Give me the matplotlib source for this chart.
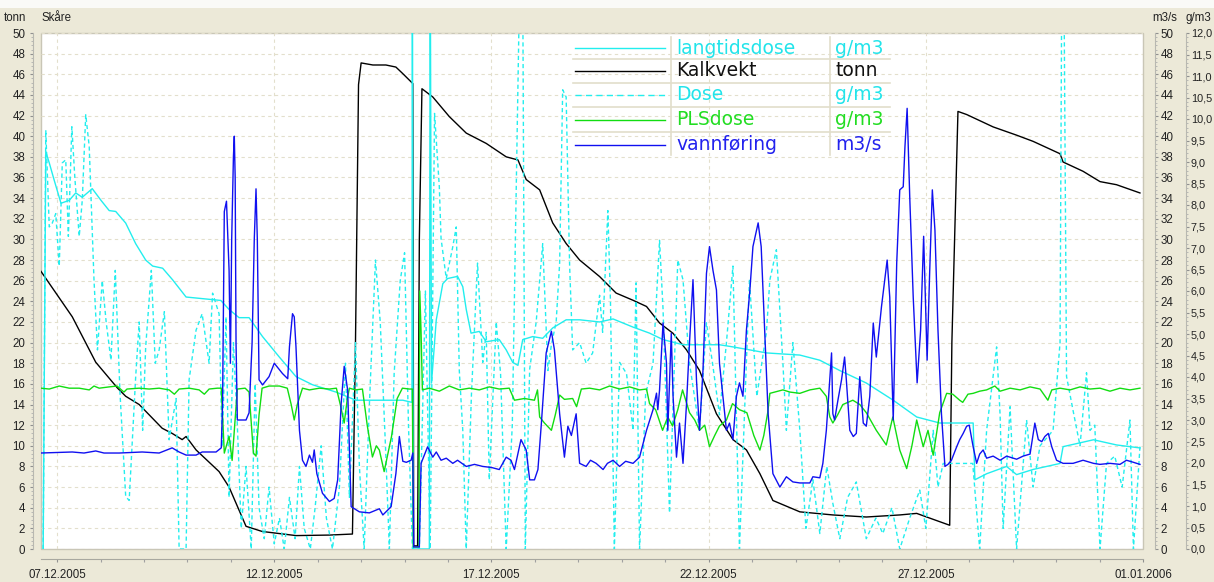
import datetime as dt
import numpy as np
import matplotlib
matplotlib.use("Agg")
import matplotlib.pyplot as plt
import matplotlib.dates as mdates
from matplotlib.ticker import MultipleLocator, FixedLocator, FuncFormatter
from matplotlib.lines import Line2D
from matplotlib.patches import Rectangle

# ---------------- data (time in days after 07.12.2005 00:00) ----------------
kalk_days = [-0.37, 0.35, 0.89, 1.39, 1.58, 1.89, 2.42, 2.65, 2.88, 2.97, 3.20, 3.73, 3.96, 4.35, 4.72,
             5.50, 6.27, 6.80, 6.87, 6.94, 7.00, 7.27, 7.57, 7.80, 7.95, 8.19, 8.21, 8.30, 8.34, 8.40,
             8.65, 9.03, 9.42, 9.88, 10.34, 10.61, 10.80, 11.11, 11.41, 11.72, 12.03, 12.49, 12.87,
             13.26, 13.57, 13.87, 14.18, 14.49, 14.79, 15.18, 15.56, 15.87, 16.18, 16.48, 17.10, 17.86,
             18.63, 19.40, 19.79, 20.02, 20.55, 20.60, 20.74, 20.94, 21.55, 22.09, 22.47, 23.09, 23.16,
             23.62, 24.01, 24.39, 24.93]
kalk_tonn = [26.9, 22.5, 18.1, 15.6, 14.8, 14.0, 11.7, 11.2, 10.6, 10.9, 9.6, 7.5, 6.0, 2.2, 1.7,
             1.3, 1.35, 1.45, 20.0, 45.0, 47.1, 46.9, 46.9, 46.7, 46.1, 45.1, 0.3, 0.3, 30.0, 44.6,
             43.8, 41.9, 40.3, 39.3, 38.0, 37.7, 35.8, 34.8, 31.6, 29.6, 28.0, 26.4, 24.8,
             24.1, 23.5, 21.9, 20.9, 19.3, 17.3, 13.1, 10.6, 9.6, 7.3, 4.7, 3.6, 3.3,
             3.1, 3.3, 3.45, 3.1, 2.3, 20.0, 42.4, 42.1, 40.9, 40.1, 39.5, 38.3, 37.5,
             36.6, 35.6, 35.3, 34.5]

lang_days = [-0.32, -0.26, -0.18, -0.07, 0.09, 0.28, 0.43, 0.58, 0.81, 1.01, 1.20, 1.35, 1.58, 1.81,
             2.04, 2.20, 2.43, 2.66, 2.97, 3.77, 3.96, 4.19, 4.42, 4.73, 5.12, 5.50, 5.88, 6.42, 6.88,
             7.96, 8.17, 8.18, 8.20, 8.57, 8.59, 8.62, 8.73, 8.88, 8.99, 9.22, 9.34, 9.42, 9.53, 9.72,
             9.88, 10.18, 10.34, 10.49, 10.61, 10.72, 10.95, 11.18, 11.41, 11.72, 12.03, 12.49, 12.80,
             13.26, 13.64, 13.95, 14.41, 14.79, 15.25, 15.56, 15.95, 16.33, 17.10, 17.56, 18.02, 18.63,
             19.25, 19.79, 20.32, 21.09, 21.13, 21.40, 21.86, 22.09, 22.47, 23.09, 23.16, 23.86, 24.39,
             24.93]
lang_gm3 = [0, 9.24, 8.98, 8.59, 8.04, 8.11, 8.28, 8.18, 8.38, 8.11, 7.87, 7.85, 7.58, 7.10,
            6.72, 6.58, 6.53, 6.26, 5.86, 5.78, 5.57, 5.38, 5.38, 4.94, 4.46, 4.01, 3.82, 3.65, 3.46,
            3.46, 3.41, 14.4, 0, 0, 14.4, 3.86, 5.33, 6.17, 6.29, 6.34, 6.10, 5.57, 5.02, 5.06,
            4.82, 4.87, 4.63, 4.34, 4.27, 4.87, 4.94, 4.90, 5.14, 5.33, 5.33, 5.28, 5.35,
            5.16, 5.02, 4.87, 4.75, 4.75, 4.75, 4.70, 4.63, 4.56, 4.51, 4.39, 4.15, 3.86,
            3.46, 3.07, 2.93, 2.93, 1.61, 1.75, 1.92, 1.73, 1.85, 1.99, 2.38, 2.54, 2.42,
            2.35]

dose_days = [-0.32, -0.26, -0.18, -0.11, -0.03, 0.05, 0.12, 0.20, 0.26, 0.34, 0.41, 0.51, 0.58, 0.66,
             0.74, 0.85, 0.93, 1.04, 1.13, 1.24, 1.34, 1.45, 1.58, 1.66, 1.81, 1.89, 1.97, 2.04, 2.17,
             2.26, 2.35, 2.47, 2.58, 2.74, 2.81, 2.97, 3.04, 3.20, 3.34, 3.50, 3.58, 3.73, 3.80, 3.89,
             3.96, 4.06, 4.15, 4.24, 4.35, 4.47, 4.56, 4.65, 4.77, 4.88, 5.00, 5.12, 5.23, 5.35, 5.48,
             5.58, 5.69, 5.83, 5.94, 6.08, 6.20, 6.34, 6.50, 6.64, 6.73, 6.87, 6.96, 7.07, 7.19, 7.33,
             7.44, 7.56, 7.65, 7.76, 7.90, 8.00, 8.09, 8.18, 8.34, 8.48, 8.59, 8.69, 8.80, 8.84, 8.96,
             9.11, 9.19, 9.26, 9.34, 9.42, 9.54, 9.68, 9.80, 9.88, 9.95, 10.11, 10.21, 10.34, 10.48,
             10.65, 10.72, 10.78, 10.88, 11.03, 11.18, 11.30, 11.38, 11.49, 11.57, 11.64, 11.72, 11.80,
             11.87, 12.03, 12.18, 12.33, 12.49, 12.56, 12.68, 12.74, 12.83, 12.95, 13.11, 13.26, 13.33,
             13.41, 13.55, 13.72, 13.87, 13.95, 14.10, 14.29, 14.41, 14.56, 14.79, 14.95, 15.09, 15.25,
             15.41, 15.56, 15.71, 15.94, 16.11, 16.33, 16.41, 16.56, 16.71, 16.79, 16.94, 17.10, 17.24,
             17.40, 17.56, 17.72, 17.86, 18.02, 18.20, 18.40, 18.63, 18.85, 19.01, 19.22, 19.40, 19.63,
             19.86, 20.00, 20.17, 20.28, 20.40, 20.55, 20.78, 21.08, 21.24, 21.40, 21.63, 21.71, 21.78,
             21.94, 22.09, 22.32, 22.47, 22.63, 22.93, 23.09, 23.13, 23.18, 23.24, 23.39, 23.55, 23.70,
             23.78, 23.89, 24.01, 24.16, 24.35, 24.52, 24.70, 24.78, 24.93]
dose_gm3 = [0, 9.74, 7.49, 7.58, 7.80, 6.58, 8.98, 9.05, 7.27, 9.82, 8.62, 7.27, 8.11, 10.10,
            9.36, 6.26, 4.63, 6.24, 5.28, 4.39, 6.48, 3.60, 1.22, 1.13, 4.01, 5.28, 2.76, 4.70, 6.48,
            4.32, 4.63, 5.52, 2.54, 3.50, 0, 0, 3.94, 5.09, 5.47, 4.32, 5.95, 5.47, 2.38, 5.40,
            1.20, 4.80, 2.88, 0.48, 1.92, 0, 3.84, 0.96, 0.24, 1.44, 0.12, 0.72, 0, 1.20, 0.24,
            1.92, 0.48, 0, 0.96, 2.40, 0.72, 0, 1.44, 4.32, 1.20, 4.80, 1.92, 0, 3.36, 6.72,
            5.28, 2.40, 0, 4.08, 6.24, 6.89, 2.88, 0, 0, 6.00, 0, 10.13, 8.42, 7.22, 6.29,
            7.03, 7.49, 4.15, 2.76, 0, 3.60, 6.65, 4.34, 5.04, 1.61, 5.28, 4.08, 0, 2.88,
            13.2, 13.2, 0, 4.18, 5.28, 7.10, 4.15, 4.75, 5.28, 6.65, 10.68, 10.51, 6.58,
            4.63, 4.80, 4.32, 4.56, 5.90, 5.04, 7.87, 5.76, 0, 4.34, 4.08, 2.76, 6.19,
            0, 3.60, 4.32, 7.18, 5.59, 0.84, 6.72, 6.26, 4.32, 2.76, 5.26, 4.32, 3.12,
            4.80, 6.58, 0, 6.26, 3.55, 5.04, 6.26, 6.96, 4.32, 2.76, 4.80, 2.76, 0.48,
            1.61, 0.36, 1.92, 1.06, 0.24, 1.20, 1.56, 0.24, 0.72, 0.36, 0.96, 0, 0.72,
            1.37, 0.48, 2.76, 1.44, 1.99, 1.99, 1.99, 1.99, 0, 2.76, 4.70, 3.12, 0.48,
            3.31, 0, 3.00, 1.44, 2.40, 2.76, 4.80, 13.2, 13.2, 4.01, 3.22, 2.40, 4.10,
            2.76, 2.88, 0, 1.99, 2.16, 1.44, 3.00, 0, 2.38]

pls_days = [-0.37, -0.18, 0.05, 0.28, 0.51, 0.74, 0.85, 0.97, 1.20, 1.38, 1.54, 1.61, 1.89, 2.12, 2.35,
            2.58, 2.70, 2.81, 3.04, 3.27, 3.39, 3.50, 3.69, 3.78, 3.85, 3.96, 4.03, 4.15, 4.33, 4.42,
            4.52, 4.58, 4.65, 4.72, 4.88, 5.12, 5.30, 5.39, 5.46, 5.53, 5.65, 5.81, 6.04, 6.27, 6.43,
            6.52, 6.61, 6.68, 6.73, 6.87, 7.03, 7.14, 7.26, 7.35, 7.42, 7.53, 7.70, 7.83, 7.95, 8.11,
            8.18, 8.20, 8.33, 8.35, 8.38, 8.41, 8.57, 8.80, 9.03, 9.26, 9.49, 9.72, 9.95, 10.18, 10.41,
            10.53, 10.76, 10.99, 11.06, 11.11, 11.22, 11.38, 11.47, 11.57, 11.68, 11.87, 11.96, 12.07,
            12.26, 12.49, 12.72, 12.95, 13.18, 13.41, 13.57, 13.64, 13.78, 13.94, 14.06, 14.17, 14.29,
            14.40, 14.56, 14.68, 14.79, 14.91, 15.02, 15.14, 15.25, 15.41, 15.55, 15.71, 15.88, 16.04,
            16.18, 16.27, 16.36, 16.41, 16.71, 16.87, 17.10, 17.33, 17.56, 17.71, 17.79, 17.86, 17.97,
            18.09, 18.32, 18.48, 18.63, 18.86, 19.09, 19.24, 19.40, 19.56, 19.68, 19.79, 19.94, 20.05,
            20.17, 20.32, 20.48, 20.62, 20.78, 20.85, 20.97, 21.09, 21.24, 21.40, 21.59, 21.71, 21.94,
            22.17, 22.40, 22.63, 22.81, 22.90, 23.09, 23.32, 23.55, 23.78, 24.01, 24.24, 24.47, 24.70,
            24.93]
pls_gm3 = [3.74, 3.72, 3.79, 3.74, 3.74, 3.70, 3.79, 3.74, 3.77, 3.79, 3.65, 3.72, 3.74, 3.72, 3.74,
           3.70, 3.60, 3.72, 3.74, 3.70, 3.60, 3.72, 3.74, 3.74, 2.23, 2.62, 2.06, 3.72, 3.74, 3.65,
           2.23, 2.16, 3.12, 3.74, 3.79, 3.79, 3.74, 3.36, 3.00, 3.36, 3.74, 3.70, 3.74, 3.72, 3.74,
           3.36, 2.93, 3.48, 3.74, 3.70, 3.72, 2.88, 2.14, 2.40, 2.30, 1.80, 2.62, 3.50, 3.74, 3.72,
           3.72, 0.05, 0.05, 6.00, 5.04, 3.70, 3.74, 3.67, 3.79, 3.70, 3.74, 3.70, 3.77, 3.72, 3.74,
           3.46, 3.50, 3.46, 3.70, 3.07, 2.93, 2.76, 3.12, 3.58, 3.48, 3.50, 3.31, 3.72,
           3.74, 3.70, 3.79, 3.72, 3.77, 3.70, 3.72, 3.38, 3.24, 2.76, 3.07, 2.86, 3.24,
           3.70, 3.17, 3.00, 2.76, 2.88, 2.38, 2.64, 2.86, 3.00, 3.38, 3.24, 3.17, 2.64,
           2.30, 2.64, 3.17, 3.62, 3.70, 3.65, 3.62, 3.70, 3.74, 3.55, 3.07, 2.93, 3.12,
           3.36, 3.46, 3.36, 3.17, 2.76, 2.42, 3.07, 2.30, 1.87, 2.40, 3.00, 2.38, 2.76,
           2.18, 3.17, 3.62, 3.60, 3.46, 3.41, 3.60, 3.62, 3.67, 3.70, 3.79, 3.67, 3.74,
           3.70, 3.77, 3.72, 3.46, 3.70, 3.74, 3.70, 3.77, 3.72, 3.74, 3.67, 3.74, 3.70,
           3.74]

vann_days = [-0.38, 0.35, 0.62, 0.89, 1.08, 1.43, 1.96, 2.35, 2.65, 2.81, 2.97, 3.20, 3.34, 3.66, 3.78,
             3.81, 3.85, 3.90, 3.94, 3.96, 3.99, 4.02, 4.06, 4.08, 4.10, 4.12, 4.15, 4.35, 4.42, 4.49,
             4.54, 4.58, 4.61, 4.65, 4.73, 4.88, 5.00, 5.19, 5.31, 5.35, 5.42, 5.46, 5.50, 5.58, 5.65,
             5.73, 5.81, 5.88, 5.92, 5.98, 6.11, 6.27, 6.38, 6.46, 6.54, 6.61, 6.69, 6.77, 6.96, 7.19,
             7.42, 7.50, 7.69, 7.80, 7.88, 7.96, 8.04, 8.15, 8.19, 8.21, 8.34, 8.38, 8.53, 8.65, 8.73,
             8.84, 8.96, 9.11, 9.22, 9.42, 9.61, 9.80, 10.00, 10.18, 10.34, 10.45, 10.53, 10.68, 10.80,
             10.88, 10.99, 11.07, 11.15, 11.26, 11.38, 11.45, 11.57, 11.68, 11.76, 11.84, 11.95, 12.03,
             12.18, 12.28, 12.41, 12.57, 12.67, 12.80, 12.95, 13.09, 13.26, 13.41, 13.57, 13.72, 13.80,
             13.83, 13.87, 13.95, 14.03, 14.06, 14.14, 14.18, 14.26, 14.33, 14.41, 14.49, 14.56, 14.64,
             14.72, 14.79, 14.87, 14.95, 15.02, 15.10, 15.18, 15.25, 15.33, 15.41, 15.48, 15.56, 15.64,
             15.71, 15.79, 15.87, 15.95, 16.02, 16.14, 16.21, 16.29, 16.37, 16.48, 16.64, 16.79, 16.94,
             17.10, 17.33, 17.40, 17.56, 17.63, 17.71, 17.79, 17.83, 17.86, 17.90, 17.98, 18.06, 18.13,
             18.17, 18.25, 18.33, 18.40, 18.48, 18.56, 18.63, 18.71, 18.79, 18.86, 18.98, 19.11, 19.17,
             19.25, 19.33, 19.40, 19.48, 19.52, 19.57, 19.63, 19.71, 19.80, 19.88, 19.95, 20.03, 20.09,
             20.15, 20.21, 20.28, 20.36, 20.44, 20.51, 20.59, 20.71, 20.78, 20.86, 20.94, 21.00, 21.09,
             21.17, 21.24, 21.32, 21.40, 21.55, 21.71, 21.86, 22.09, 22.24, 22.40, 22.51, 22.59, 22.67,
             22.74, 22.82, 22.90, 23.01, 23.16, 23.39, 23.62, 23.86, 24.01, 24.24, 24.47, 24.62, 24.78,
             24.93]
vann_m3s = [9.3, 9.4, 9.3, 9.5, 9.3, 9.3, 9.4, 9.3, 9.8, 9.4, 9.1, 9.1, 9.4, 9.4, 9.8,
            14.0, 32.7, 33.7, 29.3, 27.0, 18.0, 30.0, 38.0, 40.0, 36.0, 20.0, 12.5, 12.5, 13.2, 20.0,
            30.0, 34.9, 30.0, 16.4, 15.9, 16.7, 18.0, 17.0, 16.5, 19.6, 22.8, 22.5, 19.6, 11.5, 8.6,
            8.0, 9.1, 8.4, 9.6, 7.3, 5.4, 4.6, 4.9, 6.7, 14.1, 17.7, 15.4, 4.1, 3.6, 3.5,
            3.9, 3.3, 4.1, 7.3, 10.9, 8.5, 8.4, 8.6, 9.3, 0.2, 0.2, 8.3, 9.9, 8.9, 9.4,
            8.6, 8.8, 8.3, 8.6, 8.0, 8.2, 8.0, 7.9, 7.7, 8.9, 8.6, 7.7, 10.6, 9.6,
            6.7, 6.7, 7.7, 12.2, 19.0, 21.1, 19.3, 13.1, 8.9, 11.9, 11.0, 13.1, 8.3,
            8.0, 8.6, 8.3, 7.7, 8.3, 8.6, 8.0, 8.5, 8.3, 8.9, 11.5, 13.5, 15.1,
            13.5, 15.4, 21.9, 18.0, 11.5, 20.9, 14.9, 8.9, 12.2, 8.3, 14.0, 20.0, 26.1,
            16.4, 11.5, 17.3, 26.7, 29.3, 27.0, 25.1, 18.0, 14.8, 11.5, 12.2, 10.6, 14.8,
            16.1, 14.8, 21.2, 25.1, 29.3, 31.6, 29.3, 21.2, 13.1, 7.3, 6.0, 7.0, 6.5,
            6.4, 6.4, 7.0, 6.9, 8.3, 11.5, 16.4, 19.0, 13.1, 12.5, 14.5, 16.4, 18.6,
            16.4, 11.5, 10.9, 11.2, 16.7, 12.2, 11.9, 14.8, 21.9, 18.6, 23.5, 28.0, 24.4,
            12.5, 27.7, 34.8, 35.1, 39.0, 42.7, 34.1, 24.4, 16.1, 21.2, 30.3, 18.3, 27.0,
            34.8, 30.9, 21.2, 13.1, 8.0, 8.2, 8.6, 9.9, 10.6, 11.2, 11.9, 12.0, 9.9,
            8.3, 9.2, 9.6, 8.8, 9.0, 8.6, 9.0, 8.7, 9.0, 9.2, 12.2, 10.6, 10.4,
            10.9, 11.2, 9.9, 8.6, 8.3, 8.3, 8.6, 8.3, 8.2, 8.3, 8.2, 8.6, 8.4,
            8.2]

date_ticks = ["07.12.2005", "12.12.2005", "17.12.2005", "22.12.2005", "27.12.2005", "01.01.2006"]
series_names = ["langtidsdose", "Kalkvekt", "Dose", "PLSdose", "vannføring"]
series_units = ["g/m3", "tonn", "g/m3", "g/m3", "m3/s"]

# ---------------- styling ----------------
W, H = 1214, 582
BG = "#ECE9D8"
C_LANG = "#22EEEE"
C_KALK = "#000000"
C_DOSE = "#22EEEE"
C_PLS = "#11DD11"
C_VANN = "#1010F0"
TXT = "#222222"
FONT = "Liberation Sans"
DASH_PLOT = (0, (3.0, 2.2))
DASH_LEG = (0, (4.5, 3.0))

def fx(px):
    return px / W

def fy(py):
    return 1 - py / H

fig = plt.figure(figsize=(W / 100, H / 100), dpi=100, facecolor=BG)
fig.add_artist(Rectangle((0, fy(8)), 1, 8 / H, transform=fig.transFigure,
                         facecolor="#FAFAF7", edgecolor="none"))

L, R, T, B = 41, 1143, 33, 549
ax = fig.add_axes([fx(L), fy(B), (R - L) / W, (B - T) / H])
ax.set_facecolor("white")
ax.patch.set_edgecolor("#C9C6B6")
ax.patch.set_linewidth(1.0)

t0 = mdates.date2num(dt.datetime(2005, 12, 7))
def tx(days):
    return t0 + np.asarray(days, dtype=float)

ax_g = ax.twinx()
ax_m = ax.twinx()

ax.plot(tx(kalk_days), kalk_tonn, color=C_KALK, lw=1.0, zorder=3)
ax_g.plot(tx(lang_days), lang_gm3, color=C_LANG, lw=1.0)
ax_g.plot(tx(dose_days), dose_gm3, color=C_DOSE, lw=1.0, linestyle=DASH_PLOT)
ax_g.plot(tx(pls_days), pls_gm3, color=C_PLS, lw=1.0)
ax_m.plot(tx(vann_days), vann_m3s, color=C_VANN, lw=1.0)

xmin, xmax = tx([-0.37, 25.0])
for a in (ax, ax_g, ax_m):
    a.set_xlim(xmin, xmax)
ax.set_ylim(0, 50)
ax_m.set_ylim(0, 50)
ax_g.set_ylim(0, 12)

# x axis
major_x = [mdates.date2num(dt.datetime.strptime(s, "%d.%m.%Y")) for s in date_ticks]
ax.xaxis.set_major_locator(FixedLocator(major_x))
ax.set_xticklabels(date_ticks)
ax.xaxis.set_minor_locator(mdates.DayLocator())
ax.spines["bottom"].set_position(("outward", 7.2))
ax.spines["bottom"].set_color("#A8A8A0")
ax.tick_params(axis="x", which="major", direction="out", length=2.5, width=0.8,
               color="#909090", pad=4.5, labelsize=8.3, labelcolor=TXT)
ax.tick_params(axis="x", which="minor", direction="out", length=2.0, width=0.8, color="#A0A0A0")

# left axis (tonn)
ax.spines["left"].set_position(("outward", 5.8))
ax.spines["left"].set_color("#B8B8B0")
ax.yaxis.set_major_locator(MultipleLocator(2))
ax.yaxis.set_minor_locator(MultipleLocator(0.4))
ax.tick_params(axis="y", which="major", direction="out", length=2.5, width=0.8,
               color="#909090", pad=3.0, labelsize=8.3, labelcolor=TXT)
ax.tick_params(axis="y", which="minor", direction="out", length=1.2, width=0.6, color="#B0B0B0")
for s in ("top", "right"):
    ax.spines[s].set_visible(False)

# right axis m3/s
for s in ("top", "left", "bottom"):
    ax_m.spines[s].set_visible(False)
    ax_g.spines[s].set_visible(False)
ax_m.spines["right"].set_position(("outward", 8.6))
ax_m.spines["right"].set_color("#B8B8B0")
ax_m.yaxis.set_major_locator(MultipleLocator(2))
ax_m.yaxis.set_minor_locator(MultipleLocator(0.4))
ax_m.tick_params(axis="y", which="major", direction="out", length=2.5, width=0.8,
                 color="#909090", pad=1.5, labelsize=8.3, labelcolor=TXT)
ax_m.tick_params(axis="y", which="minor", direction="out", length=1.2, width=0.6, color="#B0B0B0")

# right axis g/m3
ax_g.spines["right"].set_position(("outward", 31.0))
ax_g.spines["right"].set_color("#B8B8B0")
ax_g.yaxis.set_major_locator(MultipleLocator(0.5))
ax_g.yaxis.set_minor_locator(MultipleLocator(0.1))
ax_g.yaxis.set_major_formatter(FuncFormatter(lambda v, p: f"{v:.1f}".replace(".", ",")))
ax_g.tick_params(axis="y", which="major", direction="out", length=2.2, width=0.8,
                 color="#909090", pad=1.2, labelsize=7.8, labelcolor=TXT)
ax_g.tick_params(axis="y", which="minor", direction="out", length=1.2, width=0.6, color="#B0B0B0")

for a in (ax, ax_g, ax_m):
    for lab in a.get_xticklabels() + a.get_yticklabels():
        lab.set_fontfamily(FONT)

# grid
ax.grid(True, which="major", axis="both", color="#E3DFCC", linestyle=(0, (3, 3)), linewidth=0.8)
ax.set_axisbelow(True)

# header labels
for px, s in [(4, "tonn"), (42, "Skåre"), (1152, "m3/s"), (1185, "g/m3")]:
    fig.text(fx(px), fy(18), s, fontsize=8.3, family=FONT, color=TXT, ha="left", va="center")

# legend table
leg_rows = [48, 71, 95, 120, 145]
leg_colors = [C_LANG, C_KALK, C_DOSE, C_PLS, C_VANN]
leg_text_colors = ["#22E4EA", "#111111", "#22E4EA", "#22DD22", "#2222EE"]
leg_styles = ["-", "-", DASH_LEG, "-", "-"]
sep_col = "#E2DECB"
for py in [59, 83, 107, 132]:
    fig.add_artist(Line2D([fx(573), fx(890)], [fy(py), fy(py)], transform=fig.transFigure,
                          color=sep_col, lw=1.2))
for px in [671, 830]:
    fig.add_artist(Line2D([fx(px), fx(px)], [fy(37), fy(155)], transform=fig.transFigure,
                          color=sep_col, lw=1.2))
for py, name, unit, c, tc, ls in zip(leg_rows, series_names, series_units, leg_colors,
                                     leg_text_colors, leg_styles):
    fig.add_artist(Line2D([fx(575), fx(665)], [fy(py), fy(py)], transform=fig.transFigure,
                          color=c, lw=1.0, linestyle=ls))
    fig.text(fx(676), fy(py), name, fontsize=13.5, color=tc, ha="left", va="center",
             family="DejaVu Sans")
    fig.text(fx(835), fy(py), unit, fontsize=13.5, color=tc, ha="left", va="center",
             family="DejaVu Sans")

fig.savefig("out.png", dpi=100, facecolor=BG)
